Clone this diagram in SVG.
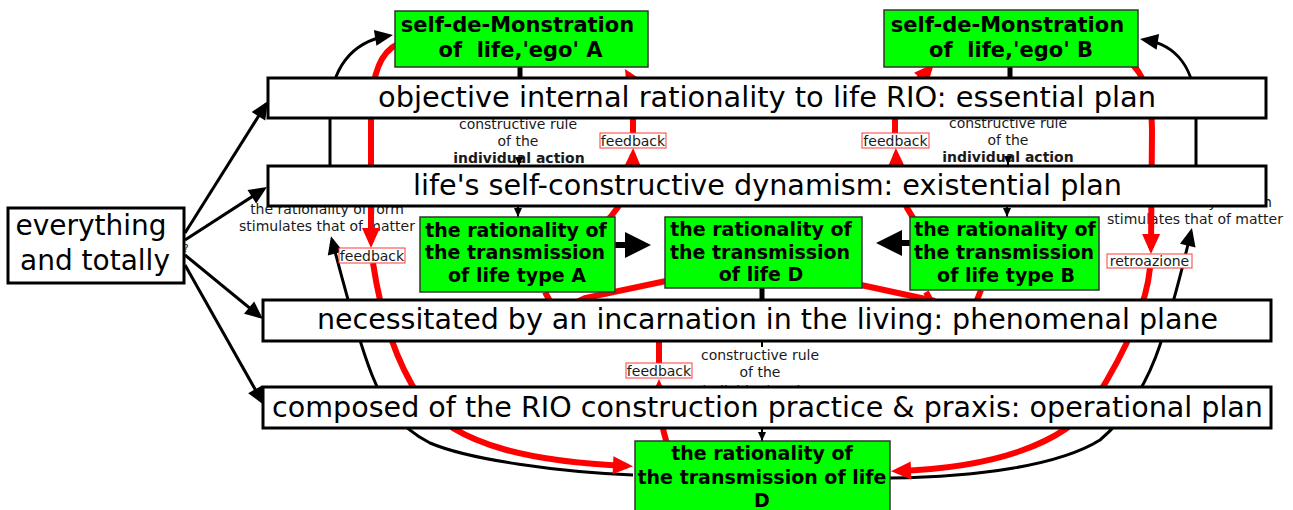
<svg xmlns="http://www.w3.org/2000/svg" width="1293" height="510" viewBox="0 0 1293 510">
  <style>
    .bar { fill: #ffffff; stroke: #000000; stroke-width: 3; }
    .bartxt { font-family: "DejaVu Sans", Verdana, sans-serif; font-size: 28px; fill: #000000; text-anchor: middle; }
    .gbox { fill: #00ff00; stroke: #333333; stroke-width: 1.5; }
    .gtxt { font-family: "DejaVu Sans", Verdana, sans-serif; font-weight: bold; fill: #000000; text-anchor: middle; }
    .lbl { font-family: "DejaVu Sans", Verdana, sans-serif; font-size: 14px; fill: #1a1a1a; text-anchor: middle; }
    .lbl .b { font-weight: bold; }
    .fbbox { fill: #ffffff; stroke: #ff3b3b; stroke-width: 1; }
    .red { fill: none; stroke: #ff0000; stroke-width: 6; }
    .blk { fill: none; stroke: #000000; stroke-width: 3; }
    .blkthick { fill: none; stroke: #000000; stroke-width: 6; }
    .stub { fill: none; stroke: #000000; stroke-width: 5; }
    .thin { fill: none; stroke: #000000; stroke-width: 2; }
  </style>
  <defs>
    <marker id="ahB" markerUnits="userSpaceOnUse" markerWidth="18" markerHeight="16" refX="14" refY="8" orient="auto" overflow="visible">
      <path d="M0,0 L18,8 L0,16 Z" fill="#000000"/>
    </marker>
    <marker id="ahBig" markerUnits="userSpaceOnUse" markerWidth="26" markerHeight="26" refX="20" refY="13" orient="auto" overflow="visible">
      <path d="M0,0 L26,13 L0,26 Z" fill="#000000"/>
    </marker>
    <marker id="ahS" markerUnits="userSpaceOnUse" markerWidth="9" markerHeight="8" refX="9" refY="4" orient="auto" overflow="visible">
      <path d="M0,0 L9,4 L0,8 Z" fill="#000000"/>
    </marker>
    <marker id="ahR" markerUnits="userSpaceOnUse" markerWidth="20" markerHeight="18" refX="14" refY="9" orient="auto" overflow="visible">
      <path d="M0,0 L20,9 L0,18 Z" fill="#ff0000"/>
    </marker>
    <!-- the lower rule text runs under the operational plane -->
    <clipPath id="aboveOperational">
      <rect x="600" y="340" width="320" height="47"/>
    </clipPath>
  </defs>

  <rect x="0" y="0" width="1293" height="510" fill="#ffffff"/>

  <!-- texts riding on the connectors (partly tucked under the bars) -->
  <g id="connector-texts">
    <text class="lbl" x="518" y="129">constructive rule</text>
    <text class="lbl" x="518" y="146">of the</text>
    <text class="lbl" x="519" y="163"><tspan class="b">individual action</tspan></text>

    <text class="lbl" x="1008" y="128">constructive rule</text>
    <text class="lbl" x="1008" y="145">of the</text>
    <text class="lbl" x="1008" y="162"><tspan class="b">individual action</tspan></text>

    <text class="lbl" x="760" y="360">constructive rule</text>
    <text class="lbl" x="760" y="377">of the</text>
    <text class="lbl" x="760" y="396" clip-path="url(#aboveOperational)">individual action</text>

    <text class="lbl" x="327" y="214">the rationality of form</text>
    <text class="lbl" x="327" y="231">stimulates that of matter</text>

    <text class="lbl" x="1195" y="207">the rationality of form</text>
    <text class="lbl" x="1195" y="224">stimulates that of matter</text>
  </g>

  <g id="connectors">
    <!-- from "everything and totally" to the four planes -->
    <path class="blk" d="M185,233 L265.9,104.4" marker-end="url(#ahB)"/>
    <path class="blk" d="M185,240 L263.6,189.2" marker-end="url(#ahB)"/>
    <path class="blk" d="M185,255 L259.9,316.5" marker-end="url(#ahB)"/>
    <path class="blk" d="M185,265 L262,401.5" marker-end="url(#ahB)"/>

    <!-- ego boxes and D box sitting on their planes -->
    <path class="stub" d="M520,66 L520,79"/>
    <path class="stub" d="M1010,66 L1010,79"/>
    <path class="stub" d="M762,287 L762,301"/>

    <!-- constructive rule connectors -->
    <path class="thin" d="M519,157 L519,166" marker-end="url(#ahS)"/>
    <path class="thin" d="M1008,156 L1008,165" marker-end="url(#ahS)"/>
    <path class="thin" d="M518,206 L518,217" marker-end="url(#ahS)"/>
    <path class="thin" d="M1007,206 L1007,217" marker-end="url(#ahS)"/>
    <path class="thin" d="M762,341 L762,347"/>
    <path class="thin" d="M762,428 L762,441" marker-end="url(#ahS)"/>

    <!-- type A / type B into D -->
    <path class="blkthick" d="M615,245 L645,245" marker-end="url(#ahBig)"/>
    <path class="blkthick" d="M910,243 L882,243" marker-end="url(#ahBig)"/>

    <!-- form stimulates matter: lower D up to the egos -->
    <path class="blk" d="M633,475 C560,472 470,460 430,443 C395,425 382,400 372,375 C360,345 345,290 332,240" marker-end="url(#ahB)"/>
    <path class="blk" d="M330,206 L330,110 C331,70 350,42 389,35.6" marker-end="url(#ahB)"/>
    <path class="blk" d="M890,478 C980,477 1060,465 1100,440 C1130,415 1150,375 1160,345 C1170,315 1182,270 1191,232" marker-end="url(#ahB)"/>
    <path class="blk" d="M1196,206 L1196,110 C1195,70 1178,45 1144,39.6" marker-end="url(#ahB)"/>

    <!-- feedback loops -->
    <path class="red" d="M398,44 C380,52 372,75 371,110 L371,242" marker-end="url(#ahR)"/>
    <path class="red" d="M373,263 C380,310 395,360 420,398 C455,448 540,462 627,466" marker-end="url(#ahR)"/>
    <path class="red" d="M1128,60 C1146,75 1152,100 1152,130 L1151,248" marker-end="url(#ahR)"/>
    <path class="red" d="M1150,268 C1146,310 1120,360 1095,400 C1065,445 990,468 897,471" marker-end="url(#ahR)"/>

    <path class="red" d="M596,230 C618,214 632,190 633,154" marker-end="url(#ahR)"/>
    <path class="red" d="M633,133 L633,100 C634,90 633,82 628,74" marker-end="url(#ahR)"/>
    <path class="red" d="M925,230 C905,214 897,190 896,154" marker-end="url(#ahR)"/>
    <path class="red" d="M895,133 L895,108 C898,92 918,82 930,68" marker-end="url(#ahR)"/>

    <path class="red" d="M668,446 C662,430 659,410 659,385" marker-end="url(#ahR)"/>
    <path class="red" d="M659,363 L659,330"/>
    <path class="red" d="M666,281 L585,298 L560,310"/>
    <path class="red" d="M545,292 L552,305"/>
    <path class="red" d="M861,285 L935,301"/>
    <path class="red" d="M926,292 L933,305"/>
    <path class="red" d="M981,290 L975,305"/>
  </g>

  <g id="edge-labels">
    <g id="fb-egoA">
      <rect class="fbbox" x="600" y="133" width="66" height="15"/>
      <text class="lbl" x="633" y="145.5">feedback</text>
    </g>
    <g id="fb-egoB">
      <rect class="fbbox" x="862" y="133" width="67" height="15"/>
      <text class="lbl" x="895.5" y="145.5">feedback</text>
    </g>
    <g id="fb-left">
      <rect class="fbbox" x="339" y="248" width="66" height="15"/>
      <text class="lbl" x="372" y="260.5">feedback</text>
    </g>
    <g id="fb-bottom">
      <rect class="fbbox" x="626" y="363" width="66" height="15"/>
      <text class="lbl" x="659" y="375.5">feedback</text>
    </g>
    <g id="fb-right">
      <rect class="fbbox" x="1107" y="254" width="85" height="14"/>
      <text class="lbl" x="1149.5" y="266">retroazione</text>
    </g>
  </g>

  <!-- the four planes -->
  <g id="plane-essential">
    <rect class="bar" x="268" y="78" width="998" height="40"/>
    <text class="bartxt" x="767" y="107" textLength="778" lengthAdjust="spacingAndGlyphs">objective internal rationality to life RIO: essential plan</text>
  </g>
  <g id="plane-existential">
    <rect class="bar" x="268" y="166" width="998" height="40"/>
    <text class="bartxt" x="767.5" y="195" textLength="709" lengthAdjust="spacingAndGlyphs">life's self-constructive dynamism: existential plan</text>
  </g>
  <g id="plane-phenomenal">
    <rect class="bar" x="263" y="300" width="1008" height="41"/>
    <text class="bartxt" x="767.5" y="329" textLength="901" lengthAdjust="spacingAndGlyphs">necessitated by an incarnation in the living: phenomenal plane</text>
  </g>
  <g id="plane-operational">
    <rect class="bar" x="263" y="387" width="1008" height="41"/>
    <text class="bartxt" x="767.5" y="417" textLength="991" lengthAdjust="spacingAndGlyphs">composed of the RIO construction practice &amp; praxis: operational plan</text>
  </g>

  <!-- source node -->
  <g id="everything">
    <rect x="8" y="208" width="176" height="75" fill="#ffffff" stroke="#000000" stroke-width="3"/>
    <text class="bartxt" x="91" y="235">everything</text>
    <text class="bartxt" x="95" y="270">and totally</text>
    <text class="lbl" x="186" y="252" style="font-size:10px">?</text>
  </g>

  <!-- green nodes -->
  <g id="ego-A">
    <rect class="gbox" x="395" y="11" width="253" height="56"/>
    <text class="gtxt" x="517.5" y="32" style="font-size:21px">self-de-Monstration</text>
    <text class="gtxt" x="520.5" y="57" style="font-size:21px" xml:space="preserve">of  life,'ego' A</text>
  </g>
  <g id="ego-B">
    <rect class="gbox" x="884" y="10" width="254" height="57"/>
    <text class="gtxt" x="1007.5" y="32" style="font-size:21px">self-de-Monstration</text>
    <text class="gtxt" x="1011" y="57" style="font-size:21px" xml:space="preserve">of  life,'ego' B</text>
  </g>
  <g id="transmission-A">
    <rect class="gbox" x="420" y="217" width="195" height="75"/>
    <text class="gtxt" x="516" y="237" style="font-size:19px">the rationality of</text>
    <text class="gtxt" x="515" y="259" style="font-size:19px">the transmission</text>
    <text class="gtxt" x="517" y="282" style="font-size:19px">of life type A</text>
  </g>
  <g id="transmission-D">
    <rect class="gbox" x="665" y="217" width="197" height="71"/>
    <text class="gtxt" x="761" y="236" style="font-size:19px">the rationality of</text>
    <text class="gtxt" x="760" y="259" style="font-size:19px">the transmission</text>
    <text class="gtxt" x="761" y="281" style="font-size:19px">of life D</text>
  </g>
  <g id="transmission-B">
    <rect class="gbox" x="910" y="217" width="189" height="73"/>
    <text class="gtxt" x="1005" y="236" style="font-size:19px">the rationality of</text>
    <text class="gtxt" x="1004" y="259" style="font-size:19px">the transmission</text>
    <text class="gtxt" x="1006" y="282" style="font-size:19px">of life type B</text>
  </g>
  <g id="transmission-D-bottom">
    <rect class="gbox" x="635" y="441" width="255" height="80"/>
    <text class="gtxt" x="762" y="460" style="font-size:19px">the rationality of</text>
    <text class="gtxt" x="762" y="484" style="font-size:19px">the transmission of life</text>
    <text class="gtxt" x="762" y="507" style="font-size:19px">D</text>
  </g>
</svg>
